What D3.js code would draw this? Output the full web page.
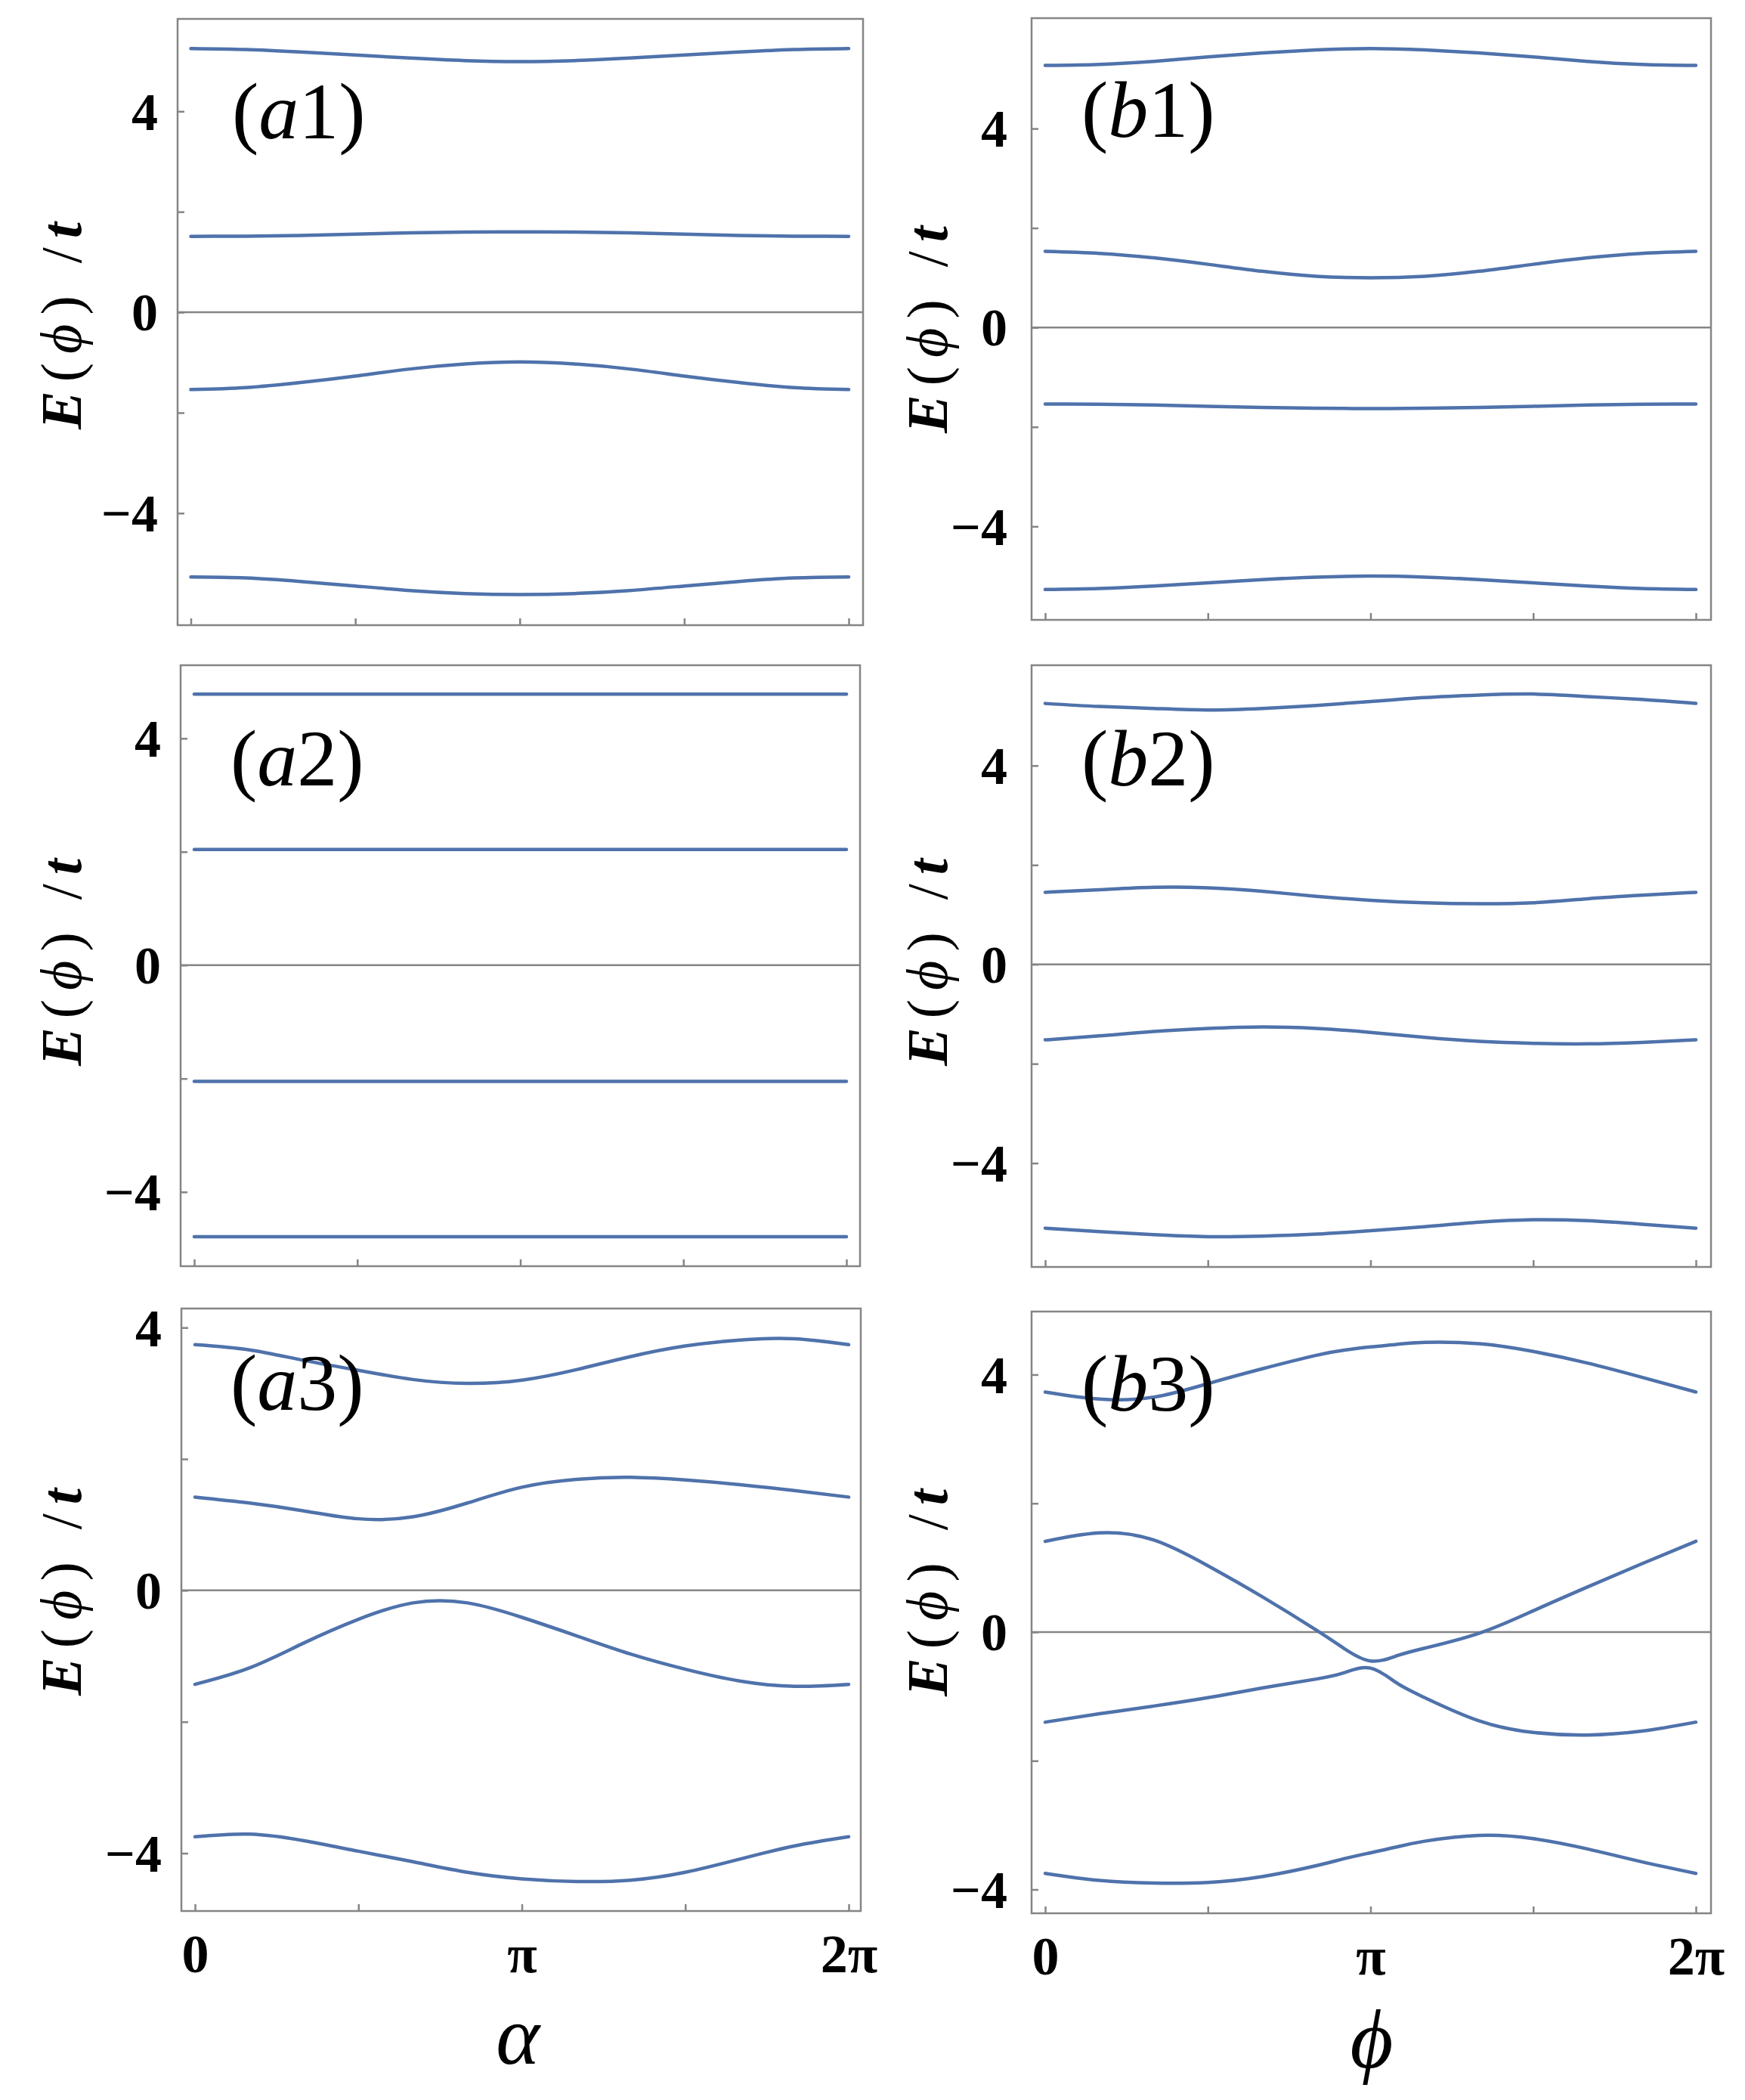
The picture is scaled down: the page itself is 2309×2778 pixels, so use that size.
<!DOCTYPE html>
<html>
<head>
<meta charset="utf-8">
<script src="https://cdn.jsdelivr.net/npm/d3@7"></script>
<style>
  body { margin: 0; background: #fff; }
  svg { display: block; }
  svg text { font-family: "Liberation Serif"; }
</style>
</head>
<body>
<script>
// phase grid, in units of pi
const xGrid = [0, 1 / 6, 1 / 3, 1 / 2, 2 / 3, 5 / 6, 1, 7 / 6, 4 / 3, 3 / 2, 5 / 3, 11 / 6, 2]
// b3 gets two extra points around the avoided crossing at pi
const xGridB3 = [0, 1 / 6, 1 / 3, 1 / 2, 2 / 3, 5 / 6, 0.92, 1, 1.08, 7 / 6, 4 / 3, 3 / 2, 5 / 3, 11 / 6, 2]

const xTickValues = [0, 0.5, 1, 1.5, 2]
const xTickLabels = ['0', '', 'π', '', '2π']
const yTickValues = [-4, -2, 0, 2, 4]
const yTickLabels = ['−4', '', '0', '', '4']

// E(phi)/t, four bands per panel
const bandsA1 = [
  [5.25, 5.23, 5.18, 5.12, 5.06, 5.01, 4.99, 5.01, 5.06, 5.12, 5.18, 5.23, 5.25],
  [1.51, 1.515, 1.53, 1.555, 1.58, 1.595, 1.60, 1.595, 1.58, 1.555, 1.53, 1.515, 1.51],
  [-1.54, -1.50, -1.40, -1.27, -1.13, -1.03, -0.99, -1.03, -1.13, -1.27, -1.40, -1.50, -1.54],
  [-5.27, -5.29, -5.36, -5.45, -5.54, -5.60, -5.62, -5.60, -5.54, -5.45, -5.36, -5.29, -5.27]
]
const bandsA2 = [
  [4.78, 4.78, 4.78, 4.78, 4.78, 4.78, 4.78, 4.78, 4.78, 4.78, 4.78, 4.78, 4.78],
  [2.04, 2.04, 2.04, 2.04, 2.04, 2.04, 2.04, 2.04, 2.04, 2.04, 2.04, 2.04, 2.04],
  [-2.05, -2.05, -2.05, -2.05, -2.05, -2.05, -2.05, -2.05, -2.05, -2.05, -2.05, -2.05, -2.05],
  [-4.79, -4.79, -4.79, -4.79, -4.79, -4.79, -4.79, -4.79, -4.79, -4.79, -4.79, -4.79, -4.79]
]
const bandsA3 = [
  [3.74, 3.66, 3.50, 3.35, 3.21, 3.15, 3.20, 3.36, 3.56, 3.72, 3.81, 3.83, 3.74],
  [1.42, 1.33, 1.21, 1.09, 1.12, 1.33, 1.57, 1.69, 1.72, 1.68, 1.61, 1.52, 1.42],
  [-1.43, -1.18, -0.80, -0.44, -0.19, -0.19, -0.41, -0.69, -0.97, -1.20, -1.38, -1.46, -1.43],
  [-3.75, -3.71, -3.81, -3.97, -4.13, -4.29, -4.39, -4.43, -4.41, -4.29, -4.09, -3.89, -3.75]
]
const bandsB1 = [
  [5.27, 5.29, 5.35, 5.44, 5.52, 5.58, 5.61, 5.58, 5.52, 5.44, 5.35, 5.29, 5.27],
  [1.53, 1.49, 1.40, 1.27, 1.13, 1.03, 1.00, 1.03, 1.13, 1.27, 1.40, 1.49, 1.53],
  [-1.54, -1.545, -1.56, -1.585, -1.61, -1.625, -1.63, -1.625, -1.61, -1.585, -1.56, -1.545, -1.54],
  [-5.27, -5.25, -5.20, -5.135, -5.07, -5.02, -5.00, -5.02, -5.07, -5.135, -5.20, -5.25, -5.27]
]
const bandsB2 = [
  [5.25, 5.19, 5.15, 5.12, 5.15, 5.21, 5.29, 5.37, 5.42, 5.44, 5.39, 5.33, 5.25],
  [1.45, 1.50, 1.55, 1.54, 1.47, 1.37, 1.29, 1.24, 1.22, 1.24, 1.32, 1.39, 1.45],
  [-1.52, -1.44, -1.35, -1.29, -1.26, -1.29, -1.37, -1.47, -1.55, -1.59, -1.60, -1.57, -1.52],
  [-5.31, -5.38, -5.44, -5.48, -5.47, -5.43, -5.36, -5.28, -5.19, -5.14, -5.16, -5.23, -5.31]
]
const bandsB3 = [
  [3.73, 3.62, 3.65, 3.86, 4.09, 4.30, 4.38, 4.43, 4.47, 4.50, 4.48, 4.36, 4.18, 3.96, 3.73],
  [1.41, 1.54, 1.43, 1.03, 0.55, 0.03, -0.26, -0.45, -0.37, -0.25, -0.02, 0.33, 0.70, 1.06, 1.41],
  [-1.40, -1.27, -1.15, -1.02, -0.87, -0.73, -0.63, -0.56, -0.79, -1.02, -1.38, -1.56, -1.60, -1.54, -1.40],
  [-3.75, -3.86, -3.90, -3.89, -3.80, -3.63, -3.52, -3.43, -3.34, -3.25, -3.16, -3.21, -3.37, -3.57, -3.75]
]

const W = 2309
const H = 2778
const serif = 'Liberation Serif'
const bandColor = '#4f72ab'
const frameColor = '#858585'

// layout of the six frames (pixels), y range of each frame
const panels = [
  { letter: 'a', num: '1', grid: xGrid, bands: bandsA1, box: [235, 25, 1142, 827], x0: 252.5, x1: 1123, y: [-6.23, 5.84], lab: [307, 183], yl: [107, 425], gap: 26, bottom: false },
  { letter: 'b', num: '1', grid: xGrid, bands: bandsB1, box: [1365, 24, 2264, 820], x0: 1383, x1: 2244, y: [-5.88, 6.22], lab: [1431, 181], yl: [1253, 430], gap: 32, bottom: false },
  { letter: 'a', num: '2', grid: xGrid, bands: bandsA2, box: [239, 880, 1138, 1675], x0: 257, x1: 1120, y: [-5.31, 5.29], lab: [305, 1039], yl: [107, 1267], gap: 26, bottom: false },
  { letter: 'b', num: '2', grid: xGrid, bands: bandsB2, box: [1365, 880, 2264, 1676], x0: 1383, x1: 2244, y: [-6.09, 6.02], lab: [1431, 1039], yl: [1253, 1267], gap: 32, bottom: false },
  { letter: 'a', num: '3', grid: xGrid, bands: bandsA3, box: [240, 1731, 1139, 2528], x0: 258, x1: 1123, y: [-4.88, 4.29], lab: [305, 1865], yl: [107, 2100], gap: 26, bottom: true },
  { letter: 'b', num: '3', grid: xGridB3, bands: bandsB3, box: [1365, 1735, 2264, 2531], x0: 1383, x1: 2244, y: [-4.37, 4.98], lab: [1431, 1866], yl: [1253, 2101], gap: 32, bottom: true }
]

const svg = d3.select('body').append('svg')
  .attr('width', W)
  .attr('height', H)
  .attr('viewBox', '0 0 ' + W + ' ' + H)
  .attr('font-family', serif)

svg.append('rect').attr('width', W).attr('height', H).attr('fill', '#fff')

panels.forEach(function (p) {
  const g = svg.append('g')
  const [left, top, right, bottom] = p.box

  const x = d3.scaleLinear().domain([0, 2]).range([p.x0, p.x1])
  const y = d3.scaleLinear().domain(p.y).range([bottom, top])

  // E = 0 reference line
  g.append('line')
    .attr('x1', left).attr('x2', right)
    .attr('y1', y(0)).attr('y2', y(0))
    .attr('stroke', frameColor)
    .attr('stroke-width', 2.5)

  const line = d3.line()
    .curve(d3.curveNatural)
    .x(function (d, i) { return x(p.grid[i]) })
    .y(function (d) { return y(d) })

  g.selectAll('.band')
    .data(p.bands)
    .enter().append('path')
      .attr('class', 'band')
      .attr('d', function (d) { return line(d) })
      .attr('fill', 'none')
      .attr('stroke', bandColor)
      .attr('stroke-width', 4.5)
      .attr('stroke-linecap', 'round')

  // frame
  g.append('rect')
    .attr('x', left).attr('y', top)
    .attr('width', right - left).attr('height', bottom - top)
    .attr('fill', 'none')
    .attr('stroke', frameColor)
    .attr('stroke-width', 2.5)

  const xAxis = d3.axisBottom(x)
    .tickValues(xTickValues)
    .tickSizeInner(-9)
    .tickSizeOuter(0)
    .tickPadding(30)
    .tickFormat(function (d, i) { return p.bottom ? xTickLabels[i] : '' })

  const gx = g.append('g')
    .attr('transform', 'translate(0,' + bottom + ')')
    .call(xAxis)
    .attr('font-family', serif)
  gx.select('.domain').remove()
  gx.selectAll('.tick line').attr('stroke', frameColor).attr('stroke-width', 2.5)
  gx.selectAll('.tick text')
    .attr('fill', '#000')
    .attr('font-family', serif)
    .attr('font-weight', 'bold')
    .attr('font-size', 72)

  const yAxis = d3.axisLeft(y)
    .tickValues(yTickValues)
    .tickSizeInner(-9)
    .tickSizeOuter(0)
    .tickPadding(p.gap)
    .tickFormat(function (d, i) { return yTickLabels[i] })

  const gy = g.append('g')
    .attr('transform', 'translate(' + left + ',0)')
    .call(yAxis)
    .attr('font-family', serif)
  gy.select('.domain').remove()
  gy.selectAll('.tick line').attr('stroke', frameColor).attr('stroke-width', 2.5)
  gy.selectAll('.tick text')
    .attr('fill', '#000')
    .attr('dy', '0.34em')
    .attr('font-family', serif)
    .attr('font-weight', 'bold')
    .attr('font-size', 70)

  // panel tag like (a1)
  const tag = g.append('text')
    .attr('x', p.lab[0])
    .attr('y', p.lab[1])
    .attr('font-family', serif)
    .attr('font-size', 106)
    .attr('fill', '#000')
  tag.append('tspan').text('(')
  tag.append('tspan').attr('font-style', 'italic').text(p.letter)
  tag.append('tspan').text(p.num)
  tag.append('tspan').text(')')

  // y label
  const yl = g.append('text')
    .attr('transform', 'translate(' + p.yl[0] + ',' + p.yl[1] + ') rotate(-90)')
    .attr('text-anchor', 'middle')
    .attr('font-family', serif)
    .attr('font-size', 76)
    .attr('letter-spacing', 12)
    .attr('fill', '#000')
  yl.append('tspan').attr('font-style', 'italic').attr('font-weight', 'bold').text('E')
  yl.append('tspan').text('(')
  yl.append('tspan').attr('font-style', 'italic').text('ϕ')
  yl.append('tspan').text(') /')
  yl.append('tspan').attr('font-style', 'italic').attr('font-weight', 'bold').text('t')
})

// x labels under each column
svg.append('text')
  .attr('x', 685).attr('y', 2730)
  .attr('text-anchor', 'middle')
  .attr('font-family', serif)
  .attr('font-style', 'italic')
  .attr('font-size', 110)
  .text('α')

svg.append('text')
  .attr('x', 1815).attr('y', 2735)
  .attr('text-anchor', 'middle')
  .attr('font-family', serif)
  .attr('font-style', 'italic')
  .attr('font-size', 110)
  .text('ϕ')
</script>
</body>
</html>
